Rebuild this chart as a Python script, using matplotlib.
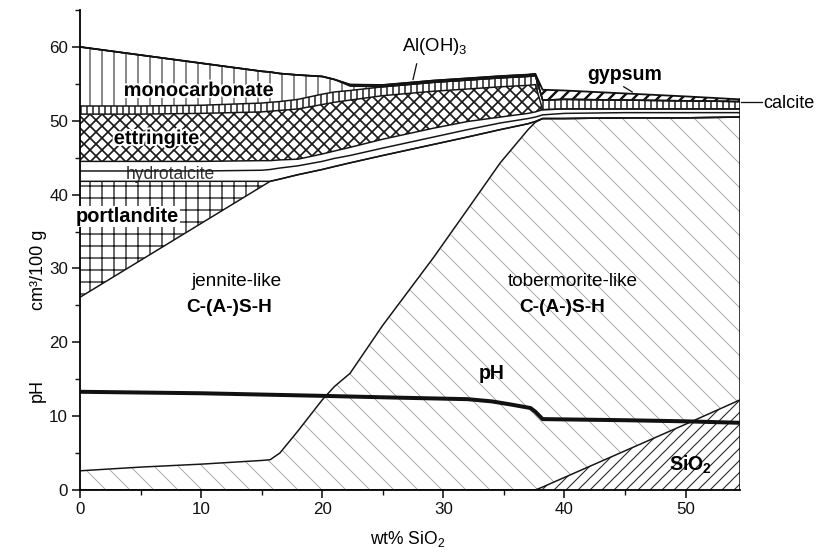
import numpy as np
import matplotlib
matplotlib.use("Agg")
import matplotlib.pyplot as plt
from matplotlib import patheffects as pe

# ---------------- data (cm3/100 g) ----------------
wt_sio2 = [0, 5, 10, 15, 15.7, 16.5, 18, 20, 21, 22.3, 25, 29.2, 32, 34.7, 37, 37.6,
           38.2, 40, 45, 50, 54.5]

sio2 =          [0, 0, 0, 0, 0, 0, 0, 0, 0, 0, 0, 0, 0, 0, 0, 0, 0.4, 1.7, 5.3, 8.9, 12.2]
tobermorite =   [2.6, 3.1, 3.5, 4.0, 4.1, 5.0, 8.0, 12.2, 14.0, 15.8, 22.3, 31.5, 38.0, 44.3,
                 48.8, 49.8, 49.9, 48.6, 45.1, 41.5, 38.3]
jennite =       [23.5, 28.0, 32.6, 37.1, 37.7, 37.1, 34.7, 31.2, 29.8, 28.5, 23.0, 15.3, 9.8,
                 4.5, 0.8, 0.1, 0, 0, 0, 0, 0]
portlandite =   [15.7, 10.7, 5.7, 0.7, 0, 0, 0, 0, 0, 0, 0, 0, 0, 0, 0, 0, 0, 0, 0, 0, 0]
hydrotalcite =  [1.4, 1.4, 1.4, 1.5, 1.6, 1.5, 1.2, 1.1, 1.1, 1.0, 1.0, 1.0, 1.0, 0.9, 0.7,
                 0.6, 0.5, 0.7, 0.7, 0.7, 0.6]
minor_phase =   [1.3, 1.3, 1.3, 1.3, 1.2, 1.1, 0.9, 1.0, 1.0, 1.1, 1.2, 1.2, 1.1, 0.8, 0.7,
                 0.7, 0.7, 0.6, 0.5, 0.5, 0.5]
ettringite =    [6.4, 6.4, 6.5, 6.6, 6.7, 6.7, 6.8, 6.7, 6.6, 6.4, 5.9, 5.0, 4.4, 4.1, 3.8,
                 3.7, 0, 0, 0, 0, 0]
calcite =       [1.1, 1.1, 1.1, 1.2, 1.2, 1.2, 1.3, 1.4, 1.4, 1.3, 1.2, 1.2, 1.2, 1.2, 1.2,
                 1.2, 1.3, 1.3, 1.2, 1.1, 1.0]
monocarbonate = [8.0, 6.9, 5.7, 4.3, 4.1, 3.8, 3.3, 2.4, 1.7, 0.6, 0, 0, 0, 0, 0, 0, 0, 0,
                 0, 0, 0]
aloh3 =         [0, 0, 0, 0, 0, 0, 0, 0, 0, 0.2, 0.25, 0.25, 0.25, 0.25, 0.25, 0.25, 0, 0,
                 0, 0, 0]
gypsum =        [0, 0, 0, 0, 0, 0, 0, 0, 0, 0, 0, 0, 0, 0, 0, 0, 1.4, 1.2, 0.9, 0.6, 0.3]

ph_x = [0, 10, 20, 26.4, 32, 34, 35.5, 37.2, 37.6, 38.2, 45, 50, 54.5]
ph = [13.3, 13.1, 12.75, 12.5, 12.3, 12.0, 11.6, 11.1, 10.6, 9.6, 9.45, 9.3, 9.1]

x_ticks = [0, 10, 20, 30, 40, 50]
y_ticks = [0, 10, 20, 30, 40, 50, 60]

# ---------------- style ----------------
plt.rcParams["font.family"] = ["Liberation Sans", "DejaVu Sans"]
plt.rcParams["mathtext.fontset"] = "custom"
plt.rcParams["mathtext.rm"] = "Liberation Sans"
plt.rcParams["mathtext.it"] = "Liberation Sans:italic"
plt.rcParams["mathtext.bf"] = "Liberation Sans:bold"

DPI = 72
fig = plt.figure(figsize=(825 / DPI, 555 / DPI), dpi=DPI)
fig.patch.set_facecolor("white")
ax = fig.add_axes([80 / 825, 65 / 555, 660 / 825, 480 / 555])

x = np.array(wt_sio2, dtype=float)

layers = [
    ("SiO2", sio2, "white", "//", "#2a2a2a", 1.1),
    ("tobermorite", tobermorite, "white", "\\", "#9a9a9a", 0.8),
    ("jennite", jennite, "white", "", "black", 1.0),
    ("portlandite", portlandite, "white", "+", "#1a1a1a", 1.3),
    ("hydrotalcite", hydrotalcite, "white", "", "black", 1.0),
    ("minor", minor_phase, "white", "", "black", 1.0),
    ("ettringite", ettringite, "white", "xx", "#1a1a1a", 1.7),
    ("calcite", calcite, "white", "||", "#1a1a1a", 1.5),
    ("monocarbonate", monocarbonate, "white", "|", "#2a2a2a", 1.1),
    ("AlOH3", aloh3, "#111111", "", "black", 1.0),
    ("gypsum", gypsum, "white", "//", "#111111", 2.4),
]

bottom = np.zeros_like(x)
tops = []
for name, vals, fc, hatch, hc, hlw in layers:
    top = bottom + np.array(vals, dtype=float)
    with plt.rc_context({"hatch.linewidth": hlw, "hatch.color": hc}):
        coll = ax.fill_between(x, bottom, top, facecolor=fc, edgecolor=hc,
                               hatch=hatch if hatch else None, linewidth=0, zorder=1)
    if hasattr(coll, "set_hatch_linewidth"):
        coll.set_hatch_linewidth(hlw)
    tops.append(top)
    bottom = top

# boundary lines
for top in tops[:-1]:
    ax.plot(x, top, color="#151515", lw=1.5, zorder=3, solid_joinstyle="round")
ax.plot(x, tops[-1], color="#111111", lw=1.8, zorder=3)
ax.plot([x[-1], x[-1]], [0, tops[-1][-1]], color="#111111", lw=1.6, zorder=3)

# pH line
ax.plot(ph_x, ph, color="#111111", lw=4.0, zorder=4, solid_capstyle="butt")

# ---------------- axes ----------------
ax.set_xlim(0, 54.5)
ax.set_ylim(0, 65)
ax.spines["top"].set_visible(False)
ax.spines["right"].set_visible(False)
ax.spines["left"].set_linewidth(1.8)
ax.spines["bottom"].set_linewidth(1.8)
ax.spines["left"].set_zorder(5)
ax.spines["bottom"].set_zorder(5)
ax.set_xticks(x_ticks)
ax.set_yticks(y_ticks)
ax.set_xticks(np.arange(5, 55, 10), minor=True)
ax.set_yticks(np.arange(5, 70, 10), minor=True)
ax.tick_params(which="major", direction="out", length=8, width=1.6, labelsize=17,
               pad=4, colors="#111111")
ax.tick_params(which="minor", direction="out", length=5, width=1.4, colors="#111111")

# axis labels
ax.text(-3.4, 29.8, "cm³/100 g", rotation=90, ha="center", va="center", fontsize=18,
        clip_on=False)
ax.text(-3.5, 13.5, "pH", rotation=90, ha="center", va="center", fontsize=18,
        clip_on=False)
ax.text(27.1, -6.6, "wt% SiO$_2$", ha="center", va="center", fontsize=17.5,
        clip_on=False)

# phase labels
white_halo = [pe.withStroke(linewidth=4, foreground="white")]
ax.text(9.8, 54.1, "monocarbonate", fontsize=20, fontweight="bold", ha="center",
        va="center", zorder=6, path_effects=white_halo)
ax.text(6.3, 47.6, "ettringite", fontsize=20, fontweight="bold", ha="center",
        va="center", zorder=6, path_effects=white_halo)
ax.text(7.5, 42.7, "hydrotalcite", fontsize=17.5, ha="center", va="center", zorder=2.5,
        color="#333333")
ax.text(3.9, 37.0, "portlandite", fontsize=20, fontweight="bold", ha="center",
        va="center", zorder=6,
        bbox=dict(boxstyle="square,pad=0.05", fc="white", ec="none"))
ax.text(12.9, 28.3, "jennite-like", fontsize=19, ha="center", va="center", zorder=6)
ax.text(12.3, 24.7, "C-(A-)S-H", fontsize=19, fontweight="bold", ha="center",
        va="center", zorder=6)
ax.text(40.7, 28.3, "tobermorite-like", fontsize=19, ha="center", va="center", zorder=6)
ax.text(39.8, 24.7, "C-(A-)S-H", fontsize=19, fontweight="bold", ha="center",
        va="center", zorder=6)
ax.text(34.0, 15.8, "pH", fontsize=19.5, fontweight="bold", ha="center", va="center",
        zorder=6)
ax.text(50.4, 3.4, r"SiO$_\mathbf{2}$", fontsize=19.5, fontweight="bold", ha="center",
        va="center", zorder=6)

ax.text(29.3, 60.0, "Al(OH)$_3$", fontsize=18.5, ha="center", va="center", zorder=6,
        clip_on=False)
ax.plot([27.8, 27.5], [57.7, 55.6], color="#111111", lw=1.3, zorder=6)

ax.text(45.0, 56.3, "gypsum", fontsize=19.5, fontweight="bold", ha="center", va="center",
        zorder=6)
ax.plot([44.9, 45.6], [54.6, 53.9], color="#111111", lw=1.3, zorder=6)

ax.plot([54.6, 56.3], [52.5, 52.5], color="#111111", lw=1.3, zorder=6, clip_on=False)
ax.text(56.4, 52.3, "calcite", fontsize=18, ha="left", va="center", zorder=6,
        clip_on=False)

fig.savefig("out.png", dpi=DPI, facecolor="white")
